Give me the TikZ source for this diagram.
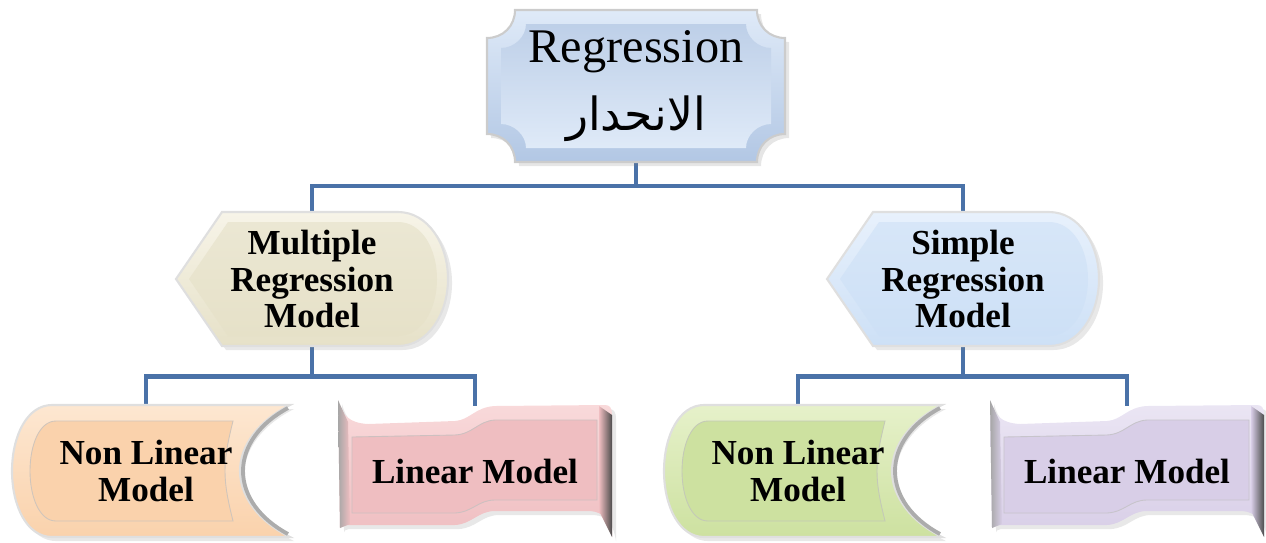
\documentclass[tikz,border=0pt]{standalone}
\usepackage{fontspec}
\setmainfont{Liberation Serif}
\newfontfamily\arabicfont[Script=Arabic]{DejaVu Sans}
\TeXXeTstate=1
\usepackage{xcolor}
\usetikzlibrary{calc, positioning, shadows}
\pgfdeclarelayer{back}
\pgfsetlayers{back,main}

\definecolor{linkblue}{HTML}{4A72A8}
\definecolor{plaqueD}{HTML}{B2C7E4}
\definecolor{plaqueL}{HTML}{DFEAF8}
\definecolor{beigeD}{HTML}{E6E1C8}
\definecolor{beigeL}{HTML}{F7F4E8}
\definecolor{skyD}{HTML}{CDE0F6}
\definecolor{skyL}{HTML}{E8F1FC}
\definecolor{peachD}{HTML}{FAD2AC}
\definecolor{peachL}{HTML}{FDE7D1}
\definecolor{limeD}{HTML}{CDE1A0}
\definecolor{limeL}{HTML}{E6F1CA}
\definecolor{roseD}{HTML}{EFBEC1}
\definecolor{roseL}{HTML}{F9DADB}
\definecolor{lilacD}{HTML}{D8CEE7}
\definecolor{lilacL}{HTML}{EBE6F4}

\tikzset{
  % forme "display" : pointe a gauche, arrondie a droite
  pics/displaybox/.style 2 args={code={
    \path[top color=#2, bottom color=#1, draw=gray!25, line width=1.2pt,
          drop shadow={opacity=0.18}]
      (-136,0) -- (-90,-67) -- (86,-67) .. controls (116,-67) and (136,-35) .. (136,0)
      .. controls (136,35) and (116,67) .. (86,67) -- (-90,67) -- cycle;
    \path[top color=#1!80!white, bottom color=#1]
      (-123,0) -- (-84,-57) -- (86,-57) .. controls (110,-57) and (125,-30) .. (125,0)
      .. controls (125,30) and (110,57) .. (86,57) -- (-84,57) -- cycle;
  }},
  % forme "stored data" : arrondie a gauche, creuse a droite
  pics/storedbox/.style 2 args={code={
    \path[top color=#2, bottom color=#1, draw=gray!25, line width=1.2pt,
          drop shadow={opacity=0.18}]
      (-99,-66) -- (139,-66) .. controls (107,-50) and (89,-25) .. (89,0)
      .. controls (89,25) and (107,50) .. (139,66) -- (-99,66)
      .. controls (-124,66) and (-139,35) .. (-139,0)
      .. controls (-139,-35) and (-124,-66) .. (-99,-66) -- cycle;
    \draw[gray!65, line width=2.2pt]
      (137,-63) .. controls (109,-48) and (92,-25) .. (92,0)
      .. controls (92,25) and (109,48) .. (137,63);
    \draw[#1!60!black!45, line width=0.5pt, fill=#1]
      (-95,-50) -- (82,-50) .. controls (77,-30) and (74,-15) .. (74,0)
      .. controls (74,15) and (77,30) .. (82,50) -- (-95,50)
      .. controls (-112,50) and (-121,25) .. (-121,0)
      .. controls (-121,-25) and (-112,-50) .. (-95,-50) -- cycle;
  }},
  % forme "vague"
  pics/wavebox/.style 2 args={code={
    \path[top color=#2, bottom color=#1, drop shadow={opacity=0.18}]
      (-137,-69) .. controls (-133,-53) and (-125,-46) .. (-107,-45)
      -- (-20,-48) .. controls (-5,-49) and (0,-62) .. (20,-63)
      -- (130,-64) .. controls (135,-64) and (137,-61) .. (137,-54)
      -- (137,68) .. controls (134,51) and (129,43) .. (115,42)
      -- (20,42) .. controls (3,42) and (-3,55) .. (-20,56)
      -- (-130,56) .. controls (-133,56) and (-135,58) .. (-135,59) -- cycle;
    \path[left color=gray!70, right color=#1]
      (-137,-69) -- (-127,-47) -- (-125,55) -- (-135,59) -- cycle;
    \path[left color=#1, right color=black!70]
      (124,-63) -- (137,-54) -- (137,68) -- (124,42) -- cycle;
    \draw[#1!60!black!45, line width=0.5pt, fill=#1]
      (-123,-32) -- (-20,-34) .. controls (-2,-35) and (3,-48) .. (20,-49)
      -- (122,-49) -- (122,31) -- (20,31) .. controls (3,31) and (-2,43) .. (-20,44)
      -- (-123,44) -- cycle;
  }}
}

\begin{document}
\begin{tikzpicture}[x=0.02cm, y=-0.02cm,
    boxtext/.style={align=center, inner sep=0pt,
      font=\bfseries\fontsize{20}{20.8}\selectfont},
    link/.style={draw=linkblue, line width=2.6pt}]
    \useasboundingbox (0,0) rectangle (1266,542);

    % 1. Cadre du haut
    \begin{scope}[shift={(636,86)}]
      \path[top color=plaqueL, bottom color=plaqueD, draw=gray!40, line width=1.2pt,
            drop shadow={opacity=0.2}]
        (-121,-76) -- (121,-76) .. controls (121,-60) and (133,-48) .. (149,-48)
        -- (149,48) .. controls (133,48) and (121,60) .. (121,76)
        -- (-121,76) .. controls (-121,60) and (-133,48) .. (-149,48)
        -- (-149,-48) .. controls (-133,-48) and (-121,-60) .. (-121,-76) -- cycle;
      \path[top color=plaqueD!85!white, bottom color=plaqueL]
        (-110,-62) -- (110,-62) .. controls (110,-49) and (122,-38) .. (135,-38)
        -- (135,38) .. controls (122,38) and (110,49) .. (110,62)
        -- (-110,62) .. controls (-110,49) and (-122,38) .. (-135,38)
        -- (-135,-38) .. controls (-122,-38) and (-110,-49) .. (-110,-62) -- cycle;
    \end{scope}
    \node[align=center, inner sep=0pt, minimum width=5.98cm, minimum height=3.06cm]
      (reg) at (636,86) {\fontsize{27.5}{36}\selectfont Regression\\[12pt]
      {\arabicfont\fontsize{26}{36}\selectfont\beginR الانحدار\endR}};

    % 2. Niveau du milieu
    \pic at (312,279) {displaybox={beigeD}{beigeL}};
    \pic at (963,279) {displaybox={skyD}{skyL}};
    \node[boxtext, minimum width=5.44cm, minimum height=2.68cm] (mult) at (312,279)
      {Multiple\\Regression\\Model};
    \node[boxtext, minimum width=5.44cm, minimum height=2.68cm] (simp) at (963,279)
      {Simple\\Regression\\Model};

    % 3. Niveau du bas
    \pic at (151,471) {storedbox={peachD}{peachL}};
    \pic at (475,469) {wavebox={roseD}{roseL}};
    \pic at (803,471) {storedbox={limeD}{limeL}};
    \pic at (1127,469) {wavebox={lilacD}{lilacL}};
    \node[boxtext, minimum width=5.56cm, minimum height=2.64cm] (nlA) at (146,471)
      {Non Linear\\Model};
    \node[boxtext, minimum width=5.48cm, minimum height=2.6cm] (linA) at (475,471)
      {Linear Model};
    \node[boxtext, minimum width=5.56cm, minimum height=2.64cm] (nlB) at (798,471)
      {Non Linear\\Model};
    \node[boxtext, minimum width=5.48cm, minimum height=2.6cm] (linB) at (1127,471)
      {Linear Model};

    % 4. Liaisons (derriere les formes)
    \begin{pgfonlayer}{back}
      \draw[link] (reg.south) -- ++(0,23) coordinate (regJ);
      \draw[link] (mult.north) |- (regJ) -| (simp.north);
      \draw[link] (mult.south) -- ++(0,30) coordinate (multJ);
      \draw[link] (nlA.north) |- (multJ) -| (linA.north);
      \draw[link] (simp.south) -- ++(0,30) coordinate (simpJ);
      \draw[link] (nlB.north) |- (simpJ) -| (linB.north);
    \end{pgfonlayer}
\end{tikzpicture}
\end{document}
